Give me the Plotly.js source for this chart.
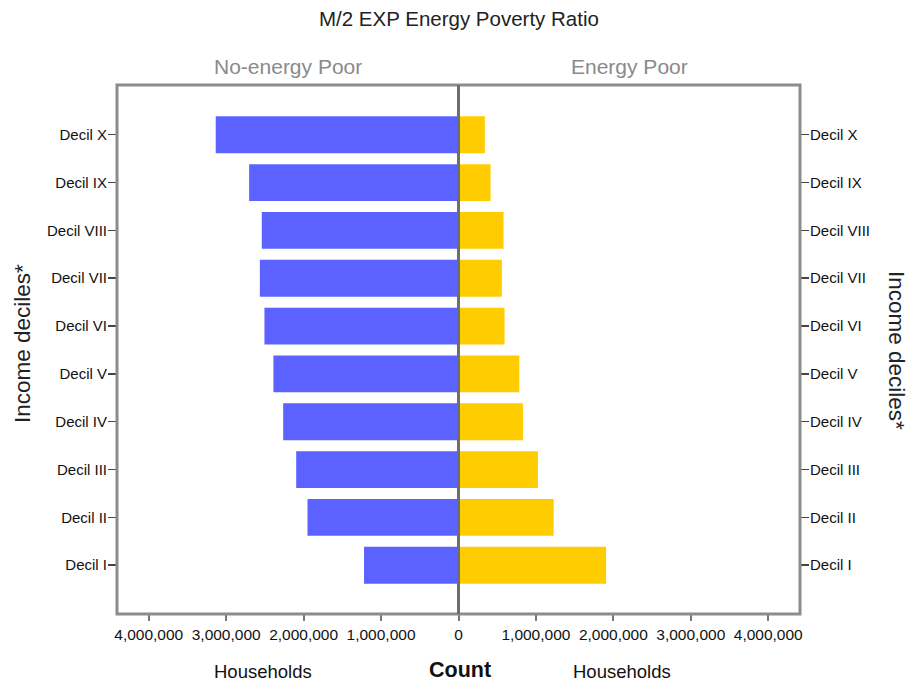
<!DOCTYPE html>
<html>
<head>
<meta charset="utf-8">
<script src="https://cdn.plot.ly/plotly-3.0.1.min.js"></script>
<style>html,body{margin:0;padding:0;background:#fff;}#chart{width:909px;height:683px;}</style>
</head>
<body>
<div id="chart"></div>
<script>
// Data
const deciles = ["Decil I","Decil II","Decil III","Decil IV","Decil V","Decil VI","Decil VII","Decil VIII","Decil IX","Decil X"];
const noEnergyPoor = [1220000, 1950000, 2096000, 2264000, 2390000, 2506000, 2565000, 2540000, 2704000, 3135000];
const energyPoor = [1906000, 1229000, 1026000, 832000, 785000, 595000, 560000, 582000, 414000, 340000];
const leftTickVals = [0, 1000000, 2000000, 3000000, 4000000];
const leftTickText = ["0","1,000,000","2,000,000","3,000,000","4,000,000"];
const rightTickVals = [1000000, 2000000, 3000000, 4000000];
const rightTickText = ["1,000,000","2,000,000","3,000,000","4,000,000"];

const FONT = "Liberation Sans, Arial, sans-serif";
const L = 117, R = 800, T = 85, B = 614;
const px = x => (x - L) / (R - L);
const py = y => (B - y) / (B - T);

const traces = [
  {type:"bar", orientation:"h", y:deciles, x:noEnergyPoor, xaxis:"x", yaxis:"y",
   marker:{color:"#5c62ff"}, hoverinfo:"x+y", showlegend:false},
  {type:"bar", orientation:"h", y:deciles, x:energyPoor, xaxis:"x2", yaxis:"y2",
   marker:{color:"#ffcc00"}, hoverinfo:"x+y", showlegend:false}
];

const yCommon = {
  type:"category", categoryorder:"array", categoryarray:deciles,
  range:[-1.02, 10.04], showgrid:false, zeroline:false, showline:false,
  ticks:"outside", ticklen:8, tickwidth:1.5, tickcolor:"#444", ticklabelstandoff:-2,
  tickfont:{family:FONT, size:15, color:"#111"}, fixedrange:true
};

const layout = {
  width:909, height:683,
  margin:{l:L, r:909-R, t:T, b:683-B, pad:0},
  paper_bgcolor:"#ffffff", plot_bgcolor:"#ffffff",
  bargap:0.23,
  font:{family:FONT, color:"#222"},
  xaxis:{domain:[0,0.5], range:[4410000,0], tickvals:leftTickVals, ticktext:leftTickText,
    showgrid:false, zeroline:false, showline:false, ticks:"outside", ticklen:6, tickwidth:2,
    tickcolor:"#777", tickfont:{family:FONT, size:15.5, color:"#111"}, anchor:"y"},
  xaxis2:{domain:[0.5,1], range:[0,4410000], tickvals:rightTickVals, ticktext:rightTickText,
    showgrid:false, zeroline:false, showline:false, ticks:"outside", ticklen:6, tickwidth:2,
    tickcolor:"#777", tickfont:{family:FONT, size:15.5, color:"#111"}, anchor:"y2"},
  yaxis:Object.assign({}, yCommon, {anchor:"x", side:"left"}),
  yaxis2:Object.assign({}, yCommon, {anchor:"x2", side:"right", matches:"y"}),
  shapes:[
    {type:"rect", xref:"paper", yref:"paper", x0:0, x1:1, y0:0, y1:1,
     line:{color:"#8c8c8c", width:3}, layer:"above"},
    {type:"line", xref:"paper", yref:"paper", x0:0.5, x1:0.5, y0:0, y1:1,
     line:{color:"#6e6e6e", width:3}, layer:"above"}
  ],
  annotations:[
    {text:"M/2 EXP Energy Poverty Ratio", xref:"paper", yref:"paper", x:px(459), y:py(19),
     showarrow:false, font:{family:FONT, size:20.5, color:"#222"}, xanchor:"center", yanchor:"middle"},
    {text:"No-energy Poor", xref:"paper", yref:"paper", x:px(288), y:py(67),
     showarrow:false, font:{family:FONT, size:21, color:"#8a8a8a"}, xanchor:"center", yanchor:"middle"},
    {text:"Energy Poor", xref:"paper", yref:"paper", x:px(629), y:py(67),
     showarrow:false, font:{family:FONT, size:21, color:"#8a8a8a"}, xanchor:"center", yanchor:"middle"},
    {text:"Households", xref:"paper", yref:"paper", x:px(263), y:py(671),
     showarrow:false, font:{family:FONT, size:18.5, color:"#111"}, xanchor:"center", yanchor:"middle"},
    {text:"<b>Count</b>", xref:"paper", yref:"paper", x:px(460), y:py(670),
     showarrow:false, font:{family:FONT, size:21.5, color:"#111"}, xanchor:"center", yanchor:"middle"},
    {text:"Households", xref:"paper", yref:"paper", x:px(622), y:py(671),
     showarrow:false, font:{family:FONT, size:18.5, color:"#111"}, xanchor:"center", yanchor:"middle"},
    {text:"Income deciles*", xref:"paper", yref:"paper", x:px(22), y:py(344), textangle:-90,
     showarrow:false, font:{family:FONT, size:22.5, color:"#222"}, xanchor:"center", yanchor:"middle"},
    {text:"Income deciles*", xref:"paper", yref:"paper", x:px(897), y:py(350), textangle:90,
     showarrow:false, font:{family:FONT, size:22.5, color:"#222"}, xanchor:"center", yanchor:"middle"}
  ]
};

Plotly.newPlot("chart", traces, layout, {displayModeBar:false, staticPlot:true});
</script>
</body>
</html>
